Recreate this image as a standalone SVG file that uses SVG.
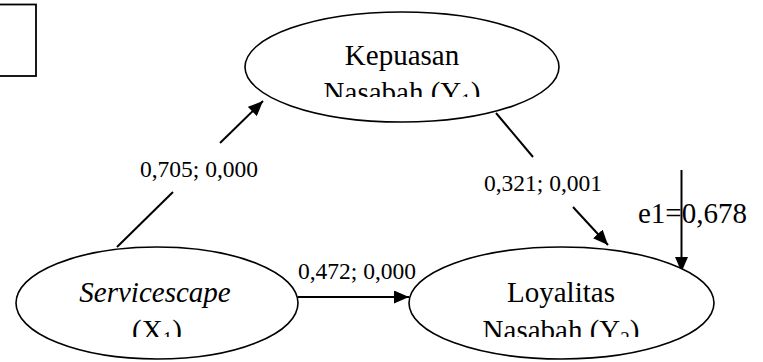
<svg xmlns="http://www.w3.org/2000/svg" width="763" height="362" viewBox="0 0 763 362">
<style>
.node{fill:#fff;stroke:#000;stroke-width:1.6}
.nt{font-family:"Liberation Serif","Times New Roman",serif;font-size:29px;fill:#000;text-anchor:middle}
.lb{font-family:"Liberation Serif","Times New Roman",serif;font-size:23.5px;fill:#000;text-anchor:middle}
.edge{stroke:#000;stroke-width:2;fill:none}
</style>
<defs>
<marker id="ah" viewBox="0 0 15 13" refX="15" refY="6.5" markerWidth="15" markerHeight="13" markerUnits="userSpaceOnUse" orient="auto">
<path d="M0,0 L15,6.5 L0,13 z" fill="#000"/>
</marker>
<clipPath id="cTop"><rect x="240" y="0" width="330" height="97"/></clipPath>
<clipPath id="cBot"><rect x="0" y="230" width="763" height="107"/></clipPath>
</defs>
<rect width="763" height="362" fill="#fff"/>
<g id="box">
<rect x="-5" y="4.5" width="41" height="71.5" fill="none" stroke="#000" stroke-width="1.8"/>
</g>
<g id="connectors">
<line class="edge" x1="117" y1="247" x2="173" y2="192"/>
<line class="edge" x1="220" y1="143" x2="263" y2="101" marker-end="url(#ah)"/>
<line class="edge" x1="496" y1="113" x2="533" y2="157"/>
<line class="edge" x1="573" y1="207" x2="608" y2="245" marker-end="url(#ah)"/>
<line class="edge" x1="298" y1="297" x2="409" y2="297" marker-end="url(#ah)"/>
<line class="edge" x1="681.5" y1="170" x2="681.5" y2="272" marker-end="url(#ah)"/>
<text class="lb" x="199" y="177">0,705; 0,000</text>
<text class="lb" x="543" y="191">0,321; 0,001</text>
<text class="lb" x="357" y="279">0,472; 0,000</text>
<text class="nt" x="638" y="223" style="text-anchor:start">e1=0,678</text>
</g>
<g id="kepuasan">
<ellipse class="node" cx="402" cy="67" rx="157" ry="55"/>
<g clip-path="url(#cTop)">
<text class="nt" x="402" y="65">Kepuasan</text>
<text class="nt" x="402" y="102">Nasabah (Y<tspan font-size="19" dy="5">1</tspan><tspan dy="-5">)</tspan></text>
</g>
</g>
<g id="servicescape">
<ellipse class="node" cx="157" cy="303" rx="141" ry="56"/>
<g clip-path="url(#cBot)">
<text class="nt" x="155" y="302" font-style="italic">Servicescape</text>
<text class="nt" x="157" y="340">(X<tspan font-size="19" dy="5">1</tspan><tspan dy="-5">)</tspan></text>
</g>
</g>
<g id="loyalitas">
<ellipse class="node" cx="561.5" cy="303" rx="152.5" ry="56"/>
<g clip-path="url(#cBot)">
<text class="nt" x="561" y="302">Loyalitas</text>
<text class="nt" x="561" y="340">Nasabah (Y<tspan font-size="19" dy="5">2</tspan><tspan dy="-5">)</tspan></text>
</g>
</g>
</svg>
